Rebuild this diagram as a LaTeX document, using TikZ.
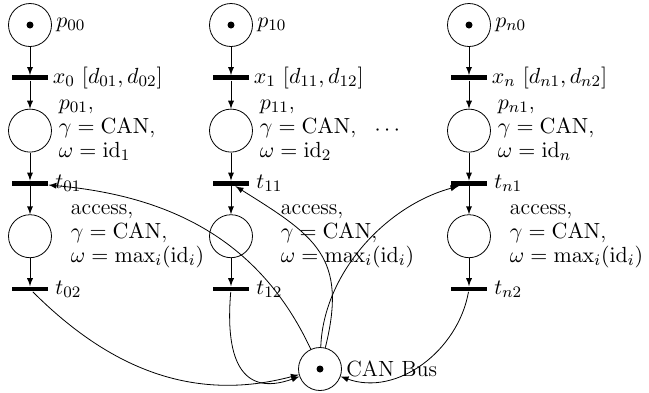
\documentclass[tikz,border=0pt]{standalone}
\usepackage{amsmath}
\usetikzlibrary{arrows,positioning}
\tikzset
{
    pnplace/.style = {circle, draw=black, minimum size=21.5pt, inner sep=0pt},
    marked/.style  = {path picture={\fill (path picture bounding box.center) circle (1.75pt);}},
    pntrans/.style = {rectangle, fill=black, minimum width=18pt, minimum height=2.4pt, inner sep=0pt},
    flow/.style    = {->, >=latex},
    note/.style    = {align=left, anchor=west},
    lbl/.style     = {inner sep=2pt}
}

\begin{document}
\begin{tikzpicture}[font=\fontsize{11}{12}\selectfont]

   \newcommand\NODEDY{26.4pt}
   \newcommand\NOTEDX{6pt}

   \useasboundingbox (0pt, 0pt) rectangle (324.5pt, -196pt);

   %% first column
   \node (p00) [pnplace, marked, label={[lbl]right:$p_{00}$}]           at (15pt, -12.5pt)                 {};
   \node (x0)  [pntrans, label={[lbl]right:{$x_0\ [d_{01}, d_{02}]$}}]  at ([shift=({0pt, -\NODEDY})]p00)  {};
   \node (p01) [pnplace]                                                at ([shift=({0pt, -\NODEDY})]x0)   {};
   \node (t01) [pntrans, label=right:$t_{01}$]                          at ([shift=({0pt, -\NODEDY})]p01)  {};
   \node (p02) [pnplace]                                                at ([shift=({0pt, -\NODEDY})]t01)  {};
   \node (t02) [pntrans, label=right:$t_{02}$]                          at ([shift=({0pt, -\NODEDY})]p02)  {};

   \node (l01) [note] at (p01.east)                  {$p_{01}$,\\ $\gamma = \mathrm{CAN}$,\\ $\omega = \mathrm{id}_1$};
   \node (l02) [note] at ([xshift=\NOTEDX]p02.east)  {access,\\ $\gamma = \mathrm{CAN}$,\\ $\omega = \max_i(\mathrm{id}_i)$};

   %% second column
   \node (p10) [pnplace, marked, label={[lbl]right:$p_{10}$}]           at (115.5pt, -12.5pt)              {};
   \node (x1)  [pntrans, label={[lbl]right:{$x_1\ [d_{11}, d_{12}]$}}]  at ([shift=({0pt, -\NODEDY})]p10)  {};
   \node (p11) [pnplace]                                                at ([shift=({0pt, -\NODEDY})]x1)   {};
   \node (t11) [pntrans, label=right:$t_{11}$]                          at ([shift=({0pt, -\NODEDY})]p11)  {};
   \node (p12) [pnplace]                                                at ([shift=({0pt, -\NODEDY})]t11)  {};
   \node (t12) [pntrans, label=right:$t_{12}$]                          at ([shift=({0pt, -\NODEDY})]p12)  {};

   \node (l11) [note] at (p11.east)                  {$p_{11}$,\\ $\gamma = \mathrm{CAN}$,\\ $\omega = \mathrm{id}_2$};
   \node (l12) [note] at ([xshift=10.5pt]p12.east)   {access,\\ $\gamma = \mathrm{CAN}$,\\ $\omega = \max_i(\mathrm{id}_i)$};
   \node (dots) [right=2pt of l11]                   {$\cdots$};

   %% last column
   \node (pn0) [pnplace, marked, label={[lbl]right:$p_{n0}$}]           at (234.5pt, -12.5pt)              {};
   \node (xn)  [pntrans, label={[lbl]right:{$x_n\ [d_{n1}, d_{n2}]$}}]  at ([shift=({0pt, -\NODEDY})]pn0)  {};
   \node (pn1) [pnplace]                                                at ([shift=({0pt, -\NODEDY})]xn)   {};
   \node (tn1) [pntrans, label=right:$t_{n1}$]                          at ([shift=({0pt, -\NODEDY})]pn1)  {};
   \node (pn2) [pnplace]                                                at ([shift=({0pt, -\NODEDY})]tn1)  {};
   \node (tn2) [pntrans, label=right:$t_{n2}$]                          at ([shift=({0pt, -\NODEDY})]pn2)  {};

   \node (ln1) [note] at (pn1.east)                  {$p_{n1}$,\\ $\gamma = \mathrm{CAN}$,\\ $\omega = \mathrm{id}_n$};
   \node (ln2) [note] at ([xshift=\NOTEDX]pn2.east)  {access,\\ $\gamma = \mathrm{CAN}$,\\ $\omega = \max_i(\mathrm{id}_i)$};

   %% the bus
   \node (bus) [pnplace, marked, label={[inner sep=2pt]right:CAN Bus}] at (160pt, -184.5pt) {};

   \path
      (p00) edge[flow] (x0)
      (x0)  edge[flow] (p01)
      (p01) edge[flow] (t01)
      (t01) edge[flow] (p02)
      (p02) edge[flow] (t02)
      (p10) edge[flow] (x1)
      (x1)  edge[flow] (p11)
      (p11) edge[flow] (t11)
      (t11) edge[flow] (p12)
      (p12) edge[flow] (t12)
      (pn0) edge[flow] (xn)
      (xn)  edge[flow] (pn1)
      (pn1) edge[flow] (tn1)
      (tn1) edge[flow] (pn2)
      (pn2) edge[flow] (tn2)
      (t02) edge[flow, out=-45, in=195]                  (bus)
      (t12) edge[flow, out=-95, in=200, looseness=1.5]   (bus)
      (tn2) edge[flow, out=-100, in=-20]                 (bus)
      (bus) edge[flow, out=115, in=-5]                   (t01)
      (bus) edge[flow, out=76, in=-32, looseness=1.3]    (t11)
      (bus) edge[flow, out=88, in=195, looseness=0.9]    (tn1);
\end{tikzpicture}
\end{document}
